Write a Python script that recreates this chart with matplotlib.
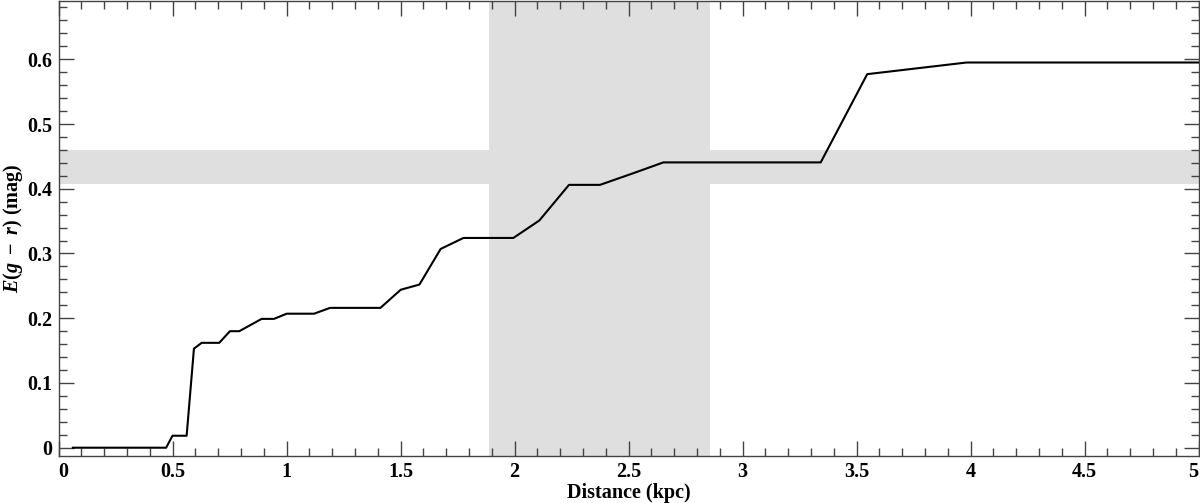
import matplotlib
matplotlib.use("Agg")
import matplotlib.pyplot as plt
from matplotlib.ticker import MultipleLocator, FuncFormatter

# Data
distance_kpc = [0.063, 0.472, 0.500, 0.562, 0.594, 0.628, 0.705, 0.752, 0.793,
                0.891, 0.945, 1.001, 1.121, 1.191, 1.412, 1.501, 1.583, 1.676,
                1.776, 1.995, 2.109, 2.239, 2.375, 2.521, 2.653, 3.343, 3.547,
                3.983, 5.000]
ebv = [0.000, 0.000, 0.0185, 0.0185, 0.153, 0.162, 0.162, 0.180, 0.180,
       0.199, 0.199, 0.207, 0.207, 0.216, 0.216, 0.244, 0.252, 0.307,
       0.324, 0.324, 0.351, 0.406, 0.406, 0.424, 0.4407, 0.4407, 0.577,
       0.595, 0.595]

hband = (0.4068, 0.4598)   # E(g-r) range
vband = (1.888, 2.857)     # distance range (kpc)

plt.rcParams['font.family'] = ['Liberation Serif', 'DejaVu Serif']
plt.rcParams['font.weight'] = 'bold'
plt.rcParams['mathtext.fontset'] = 'custom'
plt.rcParams['mathtext.rm'] = 'Liberation Serif:bold'
plt.rcParams['mathtext.it'] = 'Liberation Serif:italic:bold'
plt.rcParams['mathtext.bf'] = 'Liberation Serif:bold'

fig = plt.figure(figsize=(12, 5.03), dpi=100)
ax = fig.add_axes([58.5 / 1200, 47 / 503, 1140 / 1200, 455 / 503])

band_color = '#dfdfdf'
ax.axhspan(hband[0], hband[1], color=band_color, lw=0, zorder=1)
ax.axvspan(vband[0], vband[1], color=band_color, lw=0, zorder=1)

ax.plot(distance_kpc, ebv, color='black', lw=1.5, zorder=3)

ax.set_xlim(0, 5)
ax.set_ylim(-0.0128, 0.69)

ax.xaxis.set_major_locator(MultipleLocator(0.5))
ax.xaxis.set_minor_locator(MultipleLocator(0.1))
ax.yaxis.set_major_locator(MultipleLocator(0.1))
ax.yaxis.set_minor_locator(MultipleLocator(0.02))

fmt = FuncFormatter(lambda v, p: ('%g' % round(v, 3)))
ax.xaxis.set_major_formatter(fmt)
ax.yaxis.set_major_formatter(fmt)

tick_color = '#444444'
ax.tick_params(which='both', direction='in', top=True, right=True,
               color=tick_color, width=1.0, labelsize=14.5)
ax.tick_params(which='major', length=11)
ax.tick_params(which='minor', length=6)
ax.tick_params(axis='x', pad=4)
ax.tick_params(axis='y', pad=4.5)

for s in ax.spines.values():
    s.set_color(tick_color)
    s.set_linewidth(1.0)

ax.set_xlabel('Distance (kpc)', fontsize=14.5, fontweight='bold', labelpad=1)
ax.set_ylabel(r'$E(g\ -\ r)$ (mag)', fontsize=14.5, fontweight='bold', labelpad=1.5)

fig.canvas.draw()
xl = ax.get_xticklabels()
for lab in xl:
    if lab.get_text() == '0':
        lab.set_ha('left')
    elif lab.get_text() == '5':
        lab.set_ha('right')

fig.savefig('out.png', dpi=100)
